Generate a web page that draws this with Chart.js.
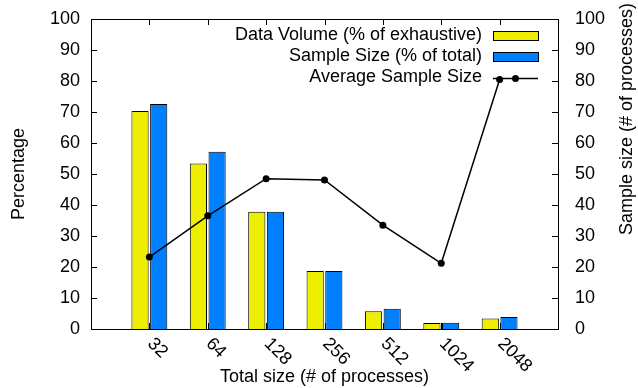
<!DOCTYPE html>
<html>
<head>
<meta charset="utf-8">
<script src="https://cdn.jsdelivr.net/npm/chart.js@4/dist/chart.umd.min.js"></script>
<style>
  html, body { margin: 0; padding: 0; background: #fff; }
  #wrap { width: 638px; height: 388px; }
</style>
</head>
<body>
<div id="wrap"><canvas id="myChart" width="638" height="388"></canvas></div>
<script>
var categorias = ["32", "64", "128", "256", "512", "1024", "2048"]
var volumeDados = [70.3, 53.4, 37.8, 18.7, 5.7, 1.9, 3.4]
var tamanhoAmostra = [72.6, 57.2, 37.8, 18.7, 6.5, 2.0, 3.9]
var mediaAmostra = [23.2, 36.5, 48.5, 48.1, 33.5, 21.2, 80.5]
var ticksY = [0, 10, 20, 30, 40, 50, 60, 70, 80, 90, 100]

var familia = "'Liberation Sans', Arial, sans-serif"
var fonte = "18px " + familia

// uma posicao vazia em cada ponta, como no gnuplot
var rotulos = [""].concat(categorias).concat([""])
function preencher(arr) { return [null].concat(arr).concat([null]) }

function larguraFixa(w) {
  return function (scale) {
    scale.width = w
    scale.paddingTop = 0
    scale.paddingBottom = 0
  }
}

var moldura = {
  id: "moldura",
  beforeDatasetsDraw: function (chart) {
    var ctx = chart.ctx
    var a = chart.chartArea
    var sx = chart.scales.x
    var sy = chart.scales.y
    ctx.save()
    ctx.strokeStyle = "#000"
    ctx.lineWidth = 1
    ctx.beginPath()
    ticksY.forEach(function (v) {
      var y = Math.round(sy.getPixelForValue(v)) + 0.5
      ctx.moveTo(a.left, y); ctx.lineTo(a.left + 6, y)
      ctx.moveTo(a.right, y); ctx.lineTo(a.right - 6, y)
    })
    for (var i = 1; i <= categorias.length; i++) {
      var x = Math.round(sx.getPixelForValue(i)) + 0.5
      ctx.moveTo(x, a.top); ctx.lineTo(x, a.top + 6)
      ctx.moveTo(x, a.bottom); ctx.lineTo(x, a.bottom - 6)
    }
    ctx.stroke()
    ctx.restore()
  },
  afterDraw: function (chart) {
    var ctx = chart.ctx
    var a = chart.chartArea
    var sx = chart.scales.x
    ctx.save()
    ctx.strokeStyle = "#000"
    ctx.lineWidth = 1
    ctx.strokeRect(Math.round(a.left) + 0.5, Math.round(a.top) + 0.5,
      Math.round(a.right - a.left), Math.round(a.bottom - a.top))

    ctx.fillStyle = "#000"
    ctx.font = fonte
    // rotulos do eixo x inclinados
    for (var i = 1; i <= categorias.length; i++) {
      var x = sx.getPixelForValue(i)
      ctx.save()
      ctx.translate(x + 1, a.bottom + 12)
      ctx.rotate(Math.PI / 4)
      ctx.textAlign = "left"
      ctx.textBaseline = "middle"
      ctx.fillText(categorias[i - 1], 0, 0)
      ctx.restore()
    }
    // titulos
    ctx.textAlign = "center"
    ctx.textBaseline = "middle"
    ctx.fillText("Total size (# of processes)", (a.left + a.right) / 2, 377)
    ctx.save()
    ctx.translate(19, (a.top + a.bottom) / 2)
    ctx.rotate(-Math.PI / 2)
    ctx.fillText("Percentage", 0, 0)
    ctx.restore()
    ctx.save()
    ctx.translate(627, 119)
    ctx.rotate(-Math.PI / 2)
    ctx.fillText("Sample size (# of processes)", 0, 0)
    ctx.restore()

    // legenda dentro do grafico, texto a esquerda da amostra
    var linhas = [36, 57, 78.5]
    var xTexto = 482, x0 = 493, x1 = 538
    ctx.textAlign = "right"
    chart.data.datasets.forEach(function (ds, k) {
      var y = linhas[k]
      ctx.fillStyle = "#000"
      ctx.fillText(ds.label, xTexto, y - 1)
      if (ds.type === "line") {
        ctx.strokeStyle = "#000"
        ctx.lineWidth = 1.5
        ctx.beginPath(); ctx.moveTo(x0, y); ctx.lineTo(x1, y); ctx.stroke()
        ctx.beginPath(); ctx.arc((x0 + x1) / 2, y, 3.5, 0, Math.PI * 2); ctx.fill()
      } else {
        ctx.fillStyle = ds.backgroundColor
        ctx.fillRect(x0, y - 4.5, x1 - x0, 9)
        ctx.strokeStyle = "#000"
        ctx.lineWidth = 1
        ctx.strokeRect(x0 + 0.5, y - 4.5, x1 - x0, 9)
      }
    })
    ctx.restore()
  }
}

var ctx = document.getElementById("myChart")
new Chart(ctx, {
  data: {
    labels: rotulos,
    datasets: [{
      type: "bar",
      label: "Data Volume (% of exhaustive)",
      data: preencher(volumeDados),
      yAxisID: "y",
      backgroundColor: "#eeee00",
      borderColor: "#000",
      borderWidth: 1,
      categoryPercentage: 0.64,
      barPercentage: 0.92,
      order: 1
    }, {
      type: "bar",
      label: "Sample Size (% of total)",
      data: preencher(tamanhoAmostra),
      yAxisID: "y",
      backgroundColor: "#0080ff",
      borderColor: "#000",
      borderWidth: 1,
      categoryPercentage: 0.64,
      barPercentage: 0.92,
      order: 1
    }, {
      type: "line",
      label: "Average Sample Size",
      data: preencher(mediaAmostra),
      yAxisID: "y2",
      borderColor: "#000",
      backgroundColor: "#000",
      borderWidth: 1.5,
      pointRadius: 3.5,
      pointBackgroundColor: "#000",
      pointBorderWidth: 0,
      tension: 0,
      order: 0
    }]
  },
  options: {
    responsive: false,
    animation: false,
    layout: { padding: { left: 50, right: 33, top: 19, bottom: 59 } },
    plugins: {
      legend: { display: false },
      tooltip: { enabled: false }
    },
    scales: {
      x: {
        type: "category",
        display: false,
        offset: false
      },
      y: {
        position: "left",
        min: 0, max: 100,
        clip: false,
        afterFit: larguraFixa(41),
        ticks: { stepSize: 10, padding: 11, color: "#000", font: { family: familia, size: 18 } },
        grid: { display: false, drawTicks: false },
        border: { display: false }
      },
      y2: {
        position: "right",
        min: 0, max: 100,
        clip: false,
        afterFit: larguraFixa(47),
        ticks: { stepSize: 10, padding: 17, color: "#000", font: { family: familia, size: 18 } },
        grid: { display: false, drawTicks: false },
        border: { display: false }
      }
    }
  },
  plugins: [moldura]
})
</script>
</body>
</html>
